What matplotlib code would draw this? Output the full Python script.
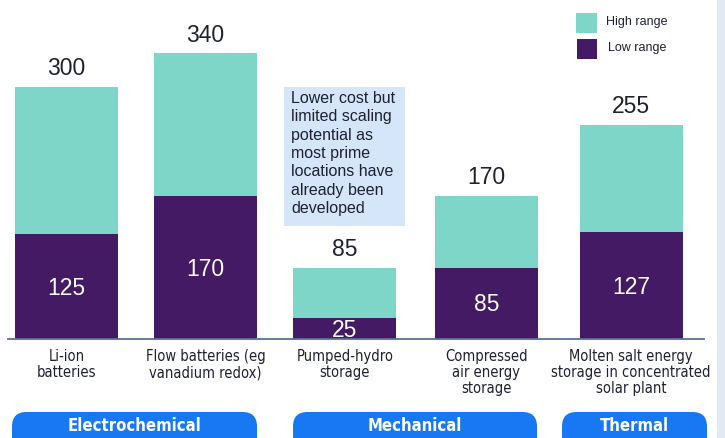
import numpy as np
import matplotlib.pyplot as plt
from matplotlib.patches import FancyBboxPatch, Rectangle

# dados
categorias = ["Li-ion\nbatteries", "Flow batteries (eg\nvanadium redox)", "Pumped-hydro\nstorage",
              "Compressed\nair energy\nstorage", "Molten salt energy\nstorage in concentrated\nsolar plant"]
baixo = [125, 170, 25, 85, 127]
alto = [300, 340, 85, 170, 255]
grupos = ["Electrochemical", "Mechanical", "Thermal"]
nota = "Lower cost but\nlimited scaling\npotential as\nmost prime\nlocations have\nalready been\ndeveloped"

cor_alto = "#7dd6c8"
cor_baixo = "#431a63"
cor_texto = "#1f2133"
cor_grupo = "#1877f2"
fonte = "Liberation Sans"

W, H = 725, 438
fig = plt.figure(figsize=(W / 100, H / 100), dpi=100)
fig.patch.set_facecolor("white")

# eixo ocupando a figura inteira; escala em pixels definida pelos limites
pos = np.array([0, 0.982, 1.968, 2.968, 3.99])
px_x = 141.5
px_y = 0.84
base = H - 339
ax = fig.add_axes([0, 0, 1, 1])
ax.set_xlim(-66.5 / px_x, (W - 66.5) / px_x)
ax.set_ylim(-base / px_y, (H - base) / px_y)
ax.axis("off")

largura = 103 / px_x
altos = np.array(alto) - np.array(baixo)
ax.bar(pos, baixo, width=largura, color=cor_baixo, zorder=2)
ax.bar(pos, altos, bottom=baixo, width=largura, color=cor_alto, zorder=2)

for x, b, a in zip(pos, baixo, alto):
    ax.text(x, a + 8, str(a), ha="center", va="bottom", fontsize=16.5, color=cor_texto,
            family=fonte)
    yb = b / 2 - 2 if b > 40 else 10
    ax.text(x, yb, str(b), ha="center", va="center", fontsize=16.5, color="white",
            family=fonte, zorder=3)

# linha de base
ax.plot([(8 - 66.5) / px_x, (704 - 66.5) / px_x], [0, 0], color="#5b6f9c", lw=1.3, zorder=3)

# rótulos das categorias
for x, c in zip(pos, categorias):
    fig.text((66.5 + x * px_x) / W, 1 - 349 / H, c, ha="center", va="top", fontsize=10.5,
             color=cor_texto, family="DejaVu Sans", fontstretch="condensed", linespacing=1.1)

# caixas dos grupos
caixas = [(12, 257), (293, 537), (562, 707)]
for (x0, x1), g in zip(caixas, grupos):
    p = FancyBboxPatch((x0 / W, 1 - 438 / H - 0.05), (x1 - x0) / W, (438 - 412) / H + 0.05,
                       boxstyle="round,pad=0,rounding_size=0.02", transform=fig.transFigure,
                       facecolor=cor_grupo, edgecolor="none", mutation_aspect=W / H)
    fig.add_artist(p)
    fig.text((x0 + x1) / 2 / W, 1 - 426 / H, g, ha="center", va="center", fontsize=12,
             color="white", weight="bold", family="DejaVu Sans", fontstretch="condensed")

# caixa de anotação
fig.add_artist(Rectangle((284 / W, 1 - 226 / H), 121 / W, 139 / H, transform=fig.transFigure,
                         facecolor="#d5e5fa", edgecolor="none"))
fig.text(291 / W, 1 - 91 / H, nota, ha="left", va="top", fontsize=11.5, color=cor_texto,
         family=fonte, linespacing=1.28)

# legenda
fig.add_artist(Rectangle((576 / W, 1 - 33 / H), 21 / W, 20 / H, transform=fig.transFigure,
                         facecolor=cor_alto, edgecolor="none"))
fig.add_artist(Rectangle((577 / W, 1 - 59 / H), 20 / W, 20 / H, transform=fig.transFigure,
                         facecolor=cor_baixo, edgecolor="none"))
fig.text(606 / W, 1 - 22 / H, "High range", ha="left", va="center", fontsize=9,
         color=cor_texto, family=fonte)
fig.text(608 / W, 1 - 48 / H, "Low range", ha="left", va="center", fontsize=9,
         color=cor_texto, family=fonte)

# faixa à direita
fig.add_artist(Rectangle((717 / W, 0), 8 / W, 1, transform=fig.transFigure,
                         facecolor="#e3e9f2", edgecolor="none"))

fig.savefig("out.png", dpi=100)
